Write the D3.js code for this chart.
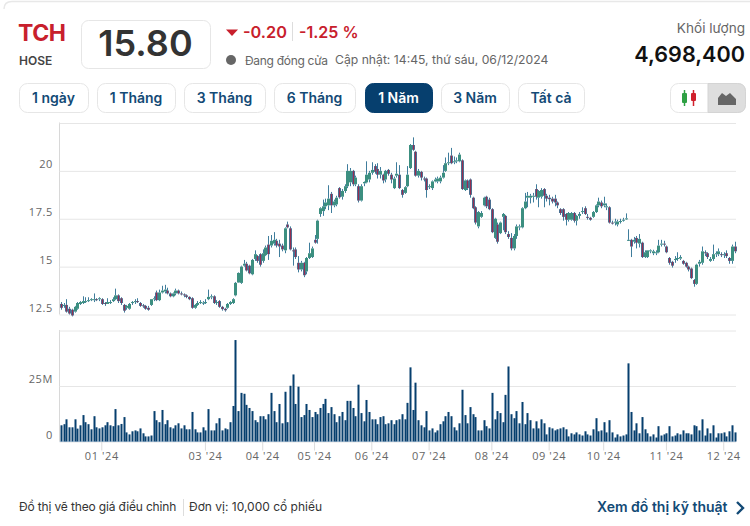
<!DOCTYPE html>
<html>
<head>
<meta charset="utf-8">
<script src="https://cdn.jsdelivr.net/npm/d3@7"></script>
<style>
html, body { margin: 0; padding: 0; background: #fff; }
text { font-family: Inter, "Noto Sans", sans-serif; }
.axis text { font-family: "Open Sans", sans-serif; font-size: 11px; fill: #666; letter-spacing: .6px; }
</style>
</head>
<body>
<svg class="chart"></svg>
<script>
var opens = [
13.05,12.95,13,12.8,12.75,12.65,12.8,13.05,13.1,13.15,13.2,13.25,13.25,13.3,13.3,13.3,13.1,13.05,13.1,13.2,
13.3,13.5,13.35,13,12.85,12.8,13.1,13.15,13.2,13.1,12.98,12.95,12.85,13,13.3,13.65,13.25,13.65,13.7,13.75,
13.6,13.45,13.6,13.75,13.6,13.55,13.5,13.42,13.35,12.85,13,13.1,13.1,13.12,13.3,13.4,13.45,13.1,13.2,12.9,
12.8,12.85,13.05,13.1,13.5,14.17,14.15,15.05,15.15,15.05,14.6,15.4,15.55,15.65,15.3,15.6,16.15,16.1,16.2,16.35,
16.2,16.1,15.85,17.2,17,15.85,15.9,15.2,14.85,15.2,14.75,15.45,15.5,16.4,16.45,17.75,17.9,18.15,18.2,18.8,
18.2,18.25,19.1,18.65,18.95,19.2,19.4,20,19.3,19.2,18.45,19.35,19.4,19.55,19.9,20.25,20.1,19.8,19.8,19.55,
20.05,19.8,19.1,19.75,19.8,19,18.85,19.2,20.15,21.35,21,19.75,19.95,19.6,19.6,19.15,19.1,19.45,19.45,19.45,
19.65,20,20.4,20.8,20.45,20.5,20.5,20.55,19,19.5,19.55,18.6,18.1,17.1,17.6,18.2,18.65,18.5,18,16.5,
17.2,16.75,17.6,17.65,16.7,16.5,15.95,16.6,17.05,17.05,18.05,18.6,18.6,18.65,19.05,18.6,18.65,19.05,18.7,18.6,
18.55,18.55,18.35,18,18,17.75,17.45,17.45,17.8,17.4,17.65,17.85,18.05,17.6,17.55,17.6,17.85,18.2,18.35,18.2,
18.1,18.1,17.3,17.3,17.2,17.33,17.42,17.48,16.4,16.4,16.3,16.5,16.2,16.25,15.5,15.5,15.8,15.7,15.7,15.75,
16.15,16.2,16.05,15.45,15.25,15.35,15.4,15.42,15.3,15.2,15,14.9,14.3,14.1,15.15,15.2,15.75,15.7,15.3,15.4,
15.65,15.65,15.65,15.6,15.7,15.45,15.3,16.05
];
var closes = [
12.85,13,12.65,12.55,12.45,12.9,13.1,13.15,13.2,13.2,13.25,13.3,13.3,13.25,13.35,13.05,13.05,13.15,13.15,13.3,
13.5,13.2,13.1,12.7,12.95,13.05,13.15,13.2,13.15,12.95,12.93,12.8,12.75,13.3,13.35,13.25,13.65,13.75,13.8,13.6,
13.45,13.6,13.75,13.6,13.55,13.5,13.42,13.3,12.85,13,13.1,13.15,13.12,13.15,13.42,13.45,13.1,13.15,12.9,12.78,
12.72,13.05,13.15,13.3,14.15,14.67,15,15.15,14.8,14.65,15.35,15.65,15.3,15.1,15.7,16,15.65,16.35,16.4,16.1,
16.05,15.9,17,17.05,15.9,15.82,15.5,14.85,15.2,14.55,15.45,15.7,15.95,16.25,17.4,18.05,18.15,18.35,18.55,18.2,
18.4,18.6,18.62,18.95,19.2,20,20,19.3,19.65,18.45,19.2,19.42,19.8,19.9,20.05,19.95,19.8,20,19.5,20,
19.85,19.55,19.6,19.85,19.1,18.75,19.15,19.8,21.35,21.1,19.75,20,19.65,19.55,19,19.2,19.45,19.55,19.6,19.65,
19.9,20.4,20.45,20.4,20.5,20.55,20.85,19.05,19.5,19.1,18.75,18.05,17.3,17.85,17.8,18.6,18.15,18,16.8,17.5,
16.3,17.3,17.75,16.8,16.55,15.95,16.6,17.1,17.1,18.05,18.4,18.7,18.7,18.7,18.65,18.95,19,18.7,18.55,18.52,
18.4,18.35,18.2,17.8,17.6,17.45,17.8,17.8,17.4,17.65,17.75,17.9,17.75,17.55,17.45,17.85,18.2,18.4,18.15,18.3,
18.15,17.3,17.25,17.35,17.35,17.38,17.45,17.52,16.4,16.05,16.4,16.25,16.45,15.5,15.75,15.85,15.85,15.8,15.75,16.1,
16.2,16.15,15.75,15.2,15.05,15.4,15.45,15.5,15.15,15,14.85,14.4,14.1,15.1,15.25,15.8,15.7,15.5,15.4,15.65,
15.7,15.8,15.6,15.65,15.55,15.3,16.05,15.8
];
var highs = [
13.15,13.1,13.3,12.9,12.8,12.95,13.15,13.2,13.45,13.4,13.4,13.35,13.6,13.35,13.4,13.35,13.15,13.35,13.25,13.4,
13.85,13.55,13.4,13.05,13,13.1,13.2,13.3,13.35,13.15,13.05,13,12.95,13.3,13.45,13.75,13.8,14,14.05,13.9,
13.65,13.65,13.85,13.8,13.7,13.6,13.55,13.45,13.4,13.05,13.2,13.25,13.2,13.3,13.8,13.55,13.5,13.25,13.25,12.95,
12.85,13.1,13.2,13.35,14.2,14.7,15.05,15.35,15.25,15.1,15.4,15.85,15.6,15.7,15.9,16.1,16.6,16.65,16.8,16.45,
16.4,16.2,17.05,17.35,17.1,16,16,15.55,15.3,15.25,15.5,16.25,16.05,16.65,17.45,18.1,18.5,18.55,19.25,18.9,
18.5,18.7,19.15,19.05,19.3,20.35,20.15,20.05,19.75,19.3,19.3,19.45,20.5,20,20.45,20.35,20.4,20.2,19.85,20.05,
20.1,19.9,19.7,20.45,20.3,19.05,19.2,20.25,21.4,21.75,21.05,20.1,20,19.7,19.65,19.3,19.5,19.65,19.7,19.75,
20.3,20.7,20.95,21.2,20.75,20.7,20.95,20.6,19.55,19.55,19.6,18.65,18.15,17.9,17.9,18.65,18.7,18.6,18.05,17.55,
17.3,17.35,17.8,17.7,16.85,16.75,16.7,17.2,17.2,18.1,18.85,18.9,18.8,18.85,19.3,19,19.1,19.1,18.8,18.75,
18.65,18.75,18.4,18.05,18.05,17.8,17.85,17.85,17.85,17.7,17.85,18.1,18.15,17.75,17.6,17.9,18.25,18.6,18.45,18.65,
18.3,18.15,17.4,17.5,17.45,17.5,17.55,17.78,16.95,16.45,16.55,16.6,16.7,16.3,15.85,15.85,15.9,15.88,15.85,16.4,
16.4,16.35,16.1,15.5,15.3,15.55,15.75,15.6,15.35,15.25,15.05,14.95,14.35,15.15,15.35,16.05,15.85,15.75,15.5,16.15,
15.8,15.95,15.75,15.75,15.85,15.5,16.15,16.3
];
var lows = [
12.75,12.85,12.6,12.5,12.4,12.6,12.75,13,13.05,13.1,13.15,13.2,13.15,13.2,13.2,13,12.95,13.05,13.05,13.15,
13.25,13.1,13,12.6,12.75,12.75,13,13.05,13.1,12.9,12.85,12.75,12.7,12.95,13.2,13.2,13.2,13.6,13.6,13.55,
13.4,13.4,13.5,13.55,13.5,13.4,13.35,13.25,12.8,12.8,12.95,13.05,13,13.05,13.25,13.3,13.05,13,12.85,12.7,
12.65,12.8,13,13.05,13.45,14.15,14.1,15,14.75,14.6,14.55,15.3,15.2,15,15.2,15.55,15.35,16,16.1,16,
15.5,15.8,15.7,17,15.85,15.05,15.4,14.7,14.75,14.45,14.6,15.4,15.45,16.2,16.2,17.6,17.65,18,17.95,17.8,
18.1,18.15,18.55,18.5,18.85,19.1,19.2,19.2,19.2,18.35,18.4,19.2,19.35,19.4,19.8,19.85,19.6,19.6,19.35,19.4,
19.75,19.35,19.05,19.65,19.05,18.6,18.8,19.15,20.1,21.05,19.7,19.65,19.5,19.45,18.6,19.05,19,19.4,19.35,19.35,
19.6,19.95,20.3,20.35,20.35,20.4,20.45,19,18.95,19,18.6,18,17.2,17,17.55,18.15,18.05,17.95,16.75,16.45,
16.2,16.7,16.9,16.7,16.45,15.85,15.85,16.45,16.9,17,18,18.1,18.3,18.35,18.5,18.1,18.55,18.1,18.4,18.2,
18.3,18.15,18.05,17.7,17.4,17.15,17.35,17.4,17.3,17.15,17.5,17.75,17.7,17.45,17.4,17.55,17.8,18.1,18.05,18.1,
17.95,17.25,17.2,17.15,17.1,17.25,17.35,17.45,16.35,15.5,16.2,15.95,16,15.45,15.45,15.45,15.7,15.6,15.6,15.7,
16.05,16.05,15.7,15.1,14.95,15.2,15.3,15.35,15.1,14.95,14.75,14.35,13.95,14.05,15,15.1,15.55,15.4,15.25,15.3,
15.5,15.55,15.5,15.45,15.45,15.15,15.15,15.7
];
// millions of shares
var volumes = [
7.3,7.8,10,6.4,6.4,10,5.8,7.3,11.9,8.7,7.8,5.5,11.4,6.4,5.9,6.4,7.3,8.7,7.3,6.9,
14.6,7.3,7.9,11,4.1,3.2,4.6,5,4.6,5.9,3.7,2.3,2.3,2.7,13.7,9.6,8.7,14.2,7.8,9.6,
6.4,5.9,7.3,8.2,5.9,7.3,5.5,5.5,13.3,5.5,4.1,4.1,6.4,5,14.6,5,5,8.2,10.5,5,
5.9,5.5,8.7,16,45.7,13.7,21.9,21.5,16.5,15.1,13.7,9.6,8.7,11.4,11.4,10,12.3,21.9,13.7,8.7,
16.9,8.2,22.4,8.7,25.1,30.2,16.9,24.7,11,11.9,16.9,14.2,11,13.3,12.3,15.1,16.9,19.2,12.8,15.5,
12.3,8.7,11.4,13.3,9.6,18.3,18.3,15.1,11.4,25.6,12.8,9.1,18.7,13.3,10,10,7.8,11,11.4,7.8,
8.2,9.6,7.8,9.6,10,12.3,10,17.4,33.4,14.2,26.5,9.6,7.3,6.4,13.7,5,5.9,4.1,5,7.8,
9.1,11.4,13.3,11.4,6.4,5,8.2,23.3,11.9,8.2,15.5,12.3,11,5,5,9.6,6.9,5.9,21.9,10,
13.7,12.8,8.7,21,33.8,12.3,10.5,13.7,8.2,17.8,7.8,12.8,9.6,5.9,9.1,5.9,10,8.2,3.2,6.4,
5.9,5,5.5,5.9,6.4,5.5,2.3,3.7,3.2,4.1,3.2,2.7,4.6,3.2,2.7,5.5,10.5,4.6,5,8.7,
4.1,9.6,4.1,1.8,3.2,2.3,2.7,3.2,35.2,13.3,5,8.2,3.7,11,5.5,3.7,2.3,3.2,1.8,6.9,
2.7,3.2,3.7,6.9,2.3,2.7,3.7,3.2,5,3.7,3.7,3.2,7.3,6.9,5,10,2.7,5.9,3.7,7.3,
1.8,3.7,3.7,4.1,2.3,4.6,7.3,4.1
];
var priceTicks = [12.5, 15, 17.5, 20, 22.5];
var volumeTicks = [0, 25, 50];
var monthIndex = [15, 53, 74, 93, 114, 135, 158, 179, 199, 222, 243];
var monthLabels = ["01 '24", "03 '24", "04 '24", "05 '24", "06 '24", "07 '24", "08 '24", "09 '24", "10 '24", "11 '24", "12 '24"];
var rangeButtons = ["1 ngày", "1 Tháng", "3 Tháng", "6 Tháng", "1 Năm", "3 Năm", "Tất cả"];
var activeRange = "1 Năm";

var width = 750, height = 526;
var left = 59.5, right = 736;
var navy = "#134a76", red = "#c8202c", grid = "#e6e6e6";

var chart = d3.select(".chart").attr("width", width).attr("height", height).style("display", "block");

var x = d3.scaleBand().domain(d3.range(opens.length)).range([left, right]);
var y = d3.scaleLinear().domain([12.5, 22.5]).range([314.5, 123]);
var yVol = d3.scaleLinear().domain([0, 50]).range([441.5, 330.5]);

function cx(i) { return Math.round(x(i) + x.bandwidth() / 2); }

function drawAxisLeft(scale, ticks, fmt) {
    var g = chart.append("g").attr("class", "axis").attr("transform", "translate(" + left + ",0)")
        .call(d3.axisLeft(scale).tickValues(ticks).tickSize(-(right - left)).tickFormat(fmt));
    g.select(".domain").attr("stroke", "#d8d8d8").attr("d", "M0," + scale.range()[0] + "V" + (scale.range()[1] - 0.5));
    g.selectAll(".tick line").attr("stroke", grid);
    g.selectAll(".tick text").attr("x", -6.5).attr("dy", "-0.28em");
    return g;
}

drawAxisLeft(y, priceTicks, function(d) { return d === 22.5 ? "" : d; });
drawAxisLeft(yVol, volumeTicks, function(d) { return d === 0 ? "0" : d === 25 ? "25M" : ""; });

var xAxis = chart.append("g").attr("class", "axis").attr("transform", "translate(0,441.5)")
    .call(d3.axisBottom(x).tickValues(monthIndex).tickSize(9).tickPadding(2)
        .tickFormat(function(d, i) { return monthLabels[i]; }));
xAxis.select(".domain").attr("stroke", "#c6d8e8").attr("d", "M" + left + ",0H" + right);
xAxis.selectAll(".tick line").attr("stroke", "#dcdcdc");

// candles
var candles = chart.append("g").selectAll("g")
    .data(d3.range(opens.length))
    .enter().append("g");

candles.append("rect")
    .attr("x", function(i) { return cx(i) - 1; })
    .attr("width", 3)
    .attr("y", function(i) { return y(Math.max(opens[i], closes[i])); })
    .attr("height", function(i) { return Math.max(1, Math.abs(y(opens[i]) - y(closes[i]))); })
    .attr("fill", function(i) { return closes[i] >= opens[i] ? "#3c8f80" : "#4a6f92"; });

candles.append("line")
    .attr("x1", function(i) { return cx(i) + 0.5; })
    .attr("x2", function(i) { return cx(i) + 0.5; })
    .attr("y1", function(i) { return y(highs[i]); })
    .attr("y2", function(i) { return y(Math.max(opens[i], closes[i])); })
    .attr("stroke", "#3f7d9c");

candles.append("line")
    .attr("x1", function(i) { return cx(i) + 0.5; })
    .attr("x2", function(i) { return cx(i) + 0.5; })
    .attr("y1", function(i) { return y(Math.min(opens[i], closes[i])); })
    .attr("y2", function(i) { return y(lows[i]); })
    .attr("stroke", "#3f7d9c");

// red core of the falling candles
candles.filter(function(i) { return closes[i] < opens[i]; }).append("rect")
    .attr("x", function(i) { return cx(i); })
    .attr("width", 1)
    .attr("y", function(i) { return y(opens[i]); })
    .attr("height", function(i) { return Math.max(1, y(closes[i]) - y(opens[i])); })
    .attr("fill", "#962f50");

// volume
chart.append("g").selectAll("rect")
    .data(volumes)
    .enter().append("rect")
    .attr("x", function(d, i) { return cx(i) - 0.5; })
    .attr("width", 2)
    .attr("y", function(d) { return yVol(d); })
    .attr("height", function(d) { return yVol(0) - yVol(d); })
    .attr("fill", "#063f6e");

// header
function label(txt, px, py, size, weight, fill, anchor) {
    return chart.append("text").attr("x", px).attr("y", py)
        .attr("font-size", size).attr("font-weight", weight).attr("fill", fill)
        .attr("text-anchor", anchor || "start").text(txt);
}

chart.append("path").attr("d", "M4,9Q4,1.5 12,1.5H750").attr("fill", "none").attr("stroke", "#e8e8e8").attr("stroke-width", 1.5);

label("TCH", 18, 41, 23, 700, red).attr("letter-spacing", "-0.4");
label("HOSE", 19, 65, 12, 600, "#444");
chart.append("rect").attr("x", 81.5).attr("y", 20.5).attr("width", 129).attr("height", 48).attr("rx", 7)
    .attr("fill", "#fff").attr("stroke", "#e6e6e6");
label("15.80", 145.5, 56, 36, 600, "#333", "middle");

chart.append("path").attr("d", "M226,29.5H238L232,36Z").attr("fill", red);
label("-0.20", 243, 38, 16.3, 600, red);
chart.append("line").attr("x1", 292.5).attr("x2", 292.5).attr("y1", 22).attr("y2", 41).attr("stroke", "#ddd");
label("-1.25 %", 299, 38, 16, 600, red);
chart.append("circle").attr("cx", 231).attr("cy", 60).attr("r", 5).attr("fill", "#666");
label("Đang đóng cửa", 245, 65, 12, 400, "#666").attr("letter-spacing", "-0.3");
label("Cập nhật: 14:45, thứ sáu, 06/12/2024", 335, 64, 12.2, 400, "#666");
label("Khối lượng", 745, 33, 13.6, 400, "#666", "end");
label("4,698,400", 745, 62, 21.6, 600, "#111", "end");

// range buttons
var buttonX = [19, 97, 184, 274, 365, 441, 518], buttonW = [69, 78, 81, 81, 67, 68, 66];
var buttons = chart.append("g").selectAll("g").data(rangeButtons).enter().append("g");
buttons.append("rect")
    .attr("x", function(d, i) { return buttonX[i] + 0.5; })
    .attr("y", 83.5)
    .attr("width", function(d, i) { return buttonW[i]; })
    .attr("height", 29)
    .attr("rx", 8)
    .attr("fill", function(d) { return d === activeRange ? "#063f6e" : "#fff"; })
    .attr("stroke", function(d) { return d === activeRange ? "#063f6e" : "#e6e6e6"; });
buttons.append("text")
    .attr("x", function(d, i) { return buttonX[i] + buttonW[i] / 2; })
    .attr("y", 103)
    .attr("text-anchor", "middle")
    .attr("font-size", 14)
    .attr("font-weight", 600)
    .attr("fill", function(d) { return d === activeRange ? "#fff" : navy; })
    .text(function(d) { return d; });

// chart type toggle
chart.append("rect").attr("x", 670.5).attr("y", 83.5).attr("width", 75).attr("height", 29).attr("rx", 8)
    .attr("fill", "#fff").attr("stroke", "#e6e6e6");
chart.append("path").attr("d", "M708,83.5H737.5Q745.5,83.5 745.5,91.5V104.5Q745.5,112.5 737.5,112.5H708Z")
    .attr("fill", "#dedede").attr("stroke", "#d4d4d4");
chart.append("path").attr("d", "M684.5,90V106").attr("stroke", "#2ea043").attr("stroke-width", 1.5);
chart.append("rect").attr("x", 682).attr("y", 93).attr("width", 5).attr("height", 10).attr("rx", 1).attr("fill", "#2ea043");
chart.append("path").attr("d", "M693.5,90V106").attr("stroke", "#d0202c").attr("stroke-width", 1.5);
chart.append("rect").attr("x", 691).attr("y", 93).attr("width", 5).attr("height", 8).attr("rx", 1).attr("fill", "#d0202c");
chart.append("path").attr("d", "M718,105V98L722,93L726,96L730,93L736,99V105Z").attr("fill", "#666");

// footer
label("Đồ thị vẽ theo giá điều chỉnh", 19, 511, 12, 400, "#333").attr("letter-spacing", "-0.15");
chart.append("line").attr("x1", 183.5).attr("x2", 183.5).attr("y1", 499).attr("y2", 516).attr("stroke", "#ddd");
label("Đơn vị: 10,000 cổ phiếu", 189, 511, 12, 400, "#333");
label("Xem đồ thị kỹ thuật", 597, 512, 14, 600, navy);
chart.append("path").attr("d", "M737,502L743,508L737,514").attr("fill", "none").attr("stroke", navy).attr("stroke-width", 2.4);
</script>
</body>
</html>
